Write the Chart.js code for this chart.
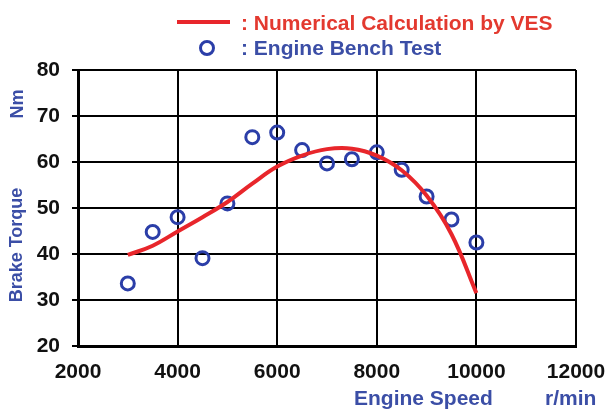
<!DOCTYPE html>
<html>
<head>
<meta charset="utf-8">
<script src="https://cdn.jsdelivr.net/npm/chart.js@4/dist/chart.umd.min.js"></script>
<style>
  html, body { margin: 0; padding: 0; background: #ffffff; }
  #wrap { width: 606px; height: 410px; position: relative; }
</style>
</head>
<body>
<div id="wrap"><canvas id="c" width="606" height="410"></canvas></div>
<script>
// ---- data ----
const benchSpeeds = [3000, 3500, 4000, 4500, 5000, 5500, 6000, 6500, 7000, 7500, 8000, 8500, 9000, 9500, 10000];
const benchTorque = [33.6, 44.8, 48.0, 39.1, 51.0, 65.4, 66.4, 62.6, 59.7, 60.6, 62.1, 58.3, 52.5, 47.5, 42.5];
const calcSpeeds  = [3000, 3500, 4000, 4500, 5000, 5500, 6000, 6500, 7000, 7500, 8000, 8500, 9000, 9500, 10000];
const calcTorque  = [39.8, 41.8, 44.9, 48.0, 51.3, 55.3, 59.0, 61.4, 62.8, 62.9, 61.4, 58.2, 52.7, 44.3, 31.5];
const xTicks = [2000, 4000, 6000, 8000, 10000, 12000];
const yTicks = [20, 30, 40, 50, 60, 70, 80];
const legendLabels = [': Numerical Calculation by VES', ': Engine Bench Test'];
const yTitleMain = 'Brake Torque';
const yTitleUnit = 'Nm';
const xTitleMain = 'Engine Speed';
const xTitleUnit = 'r/min';

const RED = '#e8262b';
const RED_TEXT = '#e3392f';
const BLUE = '#2b3ea8';
const BLUE_TEXT = '#3b4ea6';
const FONT = '"Liberation Sans", Arial, sans-serif';

const textPlugin = {
  id: 'textPlugin',
  afterDraw(chart) {
    const ctx = chart.ctx;
    ctx.save();
    // legend
    ctx.strokeStyle = RED;
    ctx.lineWidth = 4;
    ctx.beginPath();
    ctx.moveTo(177, 22);
    ctx.lineTo(230, 22);
    ctx.stroke();
    ctx.font = 'bold 21px ' + FONT;
    ctx.textAlign = 'left';
    ctx.textBaseline = 'alphabetic';
    ctx.fillStyle = RED_TEXT;
    ctx.fillText(legendLabels[0], 241, 30);
    ctx.strokeStyle = BLUE;
    ctx.lineWidth = 3;
    ctx.beginPath();
    ctx.arc(207, 48, 6.5, 0, Math.PI * 2);
    ctx.stroke();
    ctx.fillStyle = BLUE_TEXT;
    ctx.fillText(legendLabels[1], 241, 55);
    // x titles
    ctx.fillText(xTitleMain, 354, 405);
    ctx.fillText(xTitleUnit, 545, 405);
    // y titles (rotated)
    ctx.font = 'bold 18px ' + FONT;
    ctx.textAlign = 'center';
    ctx.save();
    ctx.translate(22, 245);
    ctx.rotate(-Math.PI / 2);
    ctx.fillText(yTitleMain, 0, 0);
    ctx.restore();
    ctx.save();
    ctx.translate(23, 104);
    ctx.rotate(-Math.PI / 2);
    ctx.fillText(yTitleUnit, 0, 0);
    ctx.restore();
    ctx.restore();
  }
};

new Chart(document.getElementById('c'), {
  type: 'scatter',
  data: {
    datasets: [
      {
        type: 'line',
        label: legendLabels[0],
        data: calcSpeeds.map((x, i) => ({ x: x, y: calcTorque[i] })),
        borderColor: RED,
        borderWidth: 4,
        pointRadius: 0,
        fill: false,
        tension: 0.4,
        order: 0
      },
      {
        label: legendLabels[1],
        data: benchSpeeds.map((x, i) => ({ x: x, y: benchTorque[i] })),
        pointStyle: 'circle',
        pointRadius: 6.5,
        pointBorderWidth: 3,
        borderColor: BLUE,
        backgroundColor: 'rgba(255,255,255,0)',
        showLine: false,
        order: 1
      }
    ]
  },
  options: {
    responsive: false,
    animation: false,
    layout: { padding: { top: 70, right: 30, left: 0, bottom: 0 } },
    plugins: { legend: { display: false }, tooltip: { enabled: false } },
    scales: {
      x: {
        type: 'linear',
        min: 2000, max: 12000,
        afterBuildTicks(scale) { scale.ticks = xTicks.map(v => ({ value: v })); },
        afterFit(scale) { scale.height = 64; scale.paddingLeft = 0; scale.paddingRight = 0; },
        ticks: {
          color: '#111111',
          font: { family: FONT, size: 21, weight: 'bold' },
          padding: 14,
          maxRotation: 0,
          autoSkip: false,
          callback: v => String(v)
        },
        grid: { color: '#000000', lineWidth: 2, drawTicks: false },
        border: { color: '#000000', width: 3 }
      },
      y: {
        min: 20, max: 80,
        afterBuildTicks(scale) { scale.ticks = yTicks.map(v => ({ value: v })); },
        afterFit(scale) { scale.width = 78; scale.paddingTop = 0; scale.paddingBottom = 0; },
        ticks: {
          color: '#111111',
          font: { family: FONT, size: 21, weight: 'bold' },
          padding: 12,
          autoSkip: false,
          callback: v => String(v)
        },
        grid: { color: '#000000', lineWidth: 2, tickLength: 6 },
        border: { color: '#000000', width: 3 }
      }
    }
  },
  plugins: [textPlugin]
});
</script>
</body>
</html>
